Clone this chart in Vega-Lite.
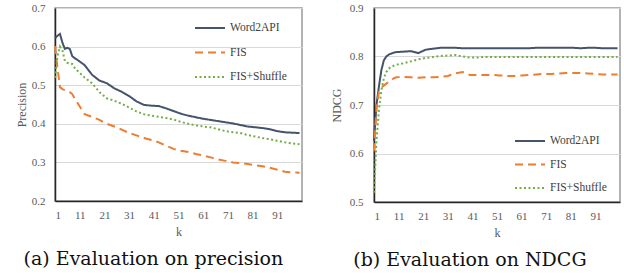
{
  "$schema": "https://vega.github.io/schema/vega-lite/v6.json",
  "background": "white",
  "padding": {"left": 14, "top": 1, "right": 9, "bottom": 0},
  "spacing": 24,
  "resolve": {"scale": {"color": "independent", "strokeDash": "independent"}, "legend": {"color": "independent", "strokeDash": "independent"}},
  "config": {
    "view": {"stroke": "#999999", "strokeWidth": 1.5},
    "axis": {"labelFont": "Liberation Serif", "titleFont": "Liberation Serif", "labelFontSize": 11, "titleFontSize": 12, "labelColor": "#595959", "titleColor": "#595959", "titleFontWeight": "normal", "ticks": false, "domainColor": "#262626", "domainWidth": 1.5, "gridColor": "#d9d9d9", "gridWidth": 1},
    "legend": {"title": null, "orient": "none", "symbolType": "stroke", "symbolSize": 900, "symbolStrokeWidth": 2, "labelFont": "Liberation Serif", "labelFontSize": 11.5, "labelColor": "#404040", "labelOffset": 4, "clipHeight": 16, "padding": 0},
    "title": {"font": "DejaVu Serif", "fontSize": 19, "fontWeight": "normal", "color": "#111111", "orient": "bottom", "anchor": "middle", "frame": "bounds", "offset": 13, "dx": -6}
  },
  "hconcat": [
    {
      "width": 247,
      "height": 193,
      "title": {"text": "(a) Evaluation on precision"},
      "data": {"values": [
        {"k": 1, "Word2API": 0.622, "FIS": 0.601, "FIS+Shuffle": 0.519},
        {"k": 2, "Word2API": 0.628, "FIS": 0.545, "FIS+Shuffle": 0.575},
        {"k": 3, "Word2API": 0.633, "FIS": 0.495, "FIS+Shuffle": 0.600},
        {"k": 4, "Word2API": 0.610, "FIS": 0.490, "FIS+Shuffle": 0.590},
        {"k": 5, "Word2API": 0.594, "FIS": 0.487, "FIS+Shuffle": 0.563},
        {"k": 6, "Word2API": 0.597, "FIS": 0.485, "FIS+Shuffle": 0.558},
        {"k": 7, "Word2API": 0.594, "FIS": 0.482, "FIS+Shuffle": 0.556},
        {"k": 8, "Word2API": 0.575, "FIS": 0.477, "FIS+Shuffle": 0.555},
        {"k": 9, "Word2API": 0.570, "FIS": 0.465, "FIS+Shuffle": 0.545},
        {"k": 10, "Word2API": 0.566, "FIS": 0.455, "FIS+Shuffle": 0.538},
        {"k": 13, "Word2API": 0.552, "FIS": 0.425, "FIS+Shuffle": 0.520},
        {"k": 16, "Word2API": 0.527, "FIS": 0.418, "FIS+Shuffle": 0.505},
        {"k": 19, "Word2API": 0.512, "FIS": 0.410, "FIS+Shuffle": 0.482},
        {"k": 22, "Word2API": 0.505, "FIS": 0.400, "FIS+Shuffle": 0.466},
        {"k": 25, "Word2API": 0.492, "FIS": 0.393, "FIS+Shuffle": 0.460},
        {"k": 28, "Word2API": 0.483, "FIS": 0.385, "FIS+Shuffle": 0.452},
        {"k": 31, "Word2API": 0.472, "FIS": 0.376, "FIS+Shuffle": 0.442},
        {"k": 34, "Word2API": 0.458, "FIS": 0.370, "FIS+Shuffle": 0.432},
        {"k": 37, "Word2API": 0.449, "FIS": 0.363, "FIS+Shuffle": 0.425},
        {"k": 40, "Word2API": 0.447, "FIS": 0.358, "FIS+Shuffle": 0.421},
        {"k": 43, "Word2API": 0.446, "FIS": 0.352, "FIS+Shuffle": 0.418},
        {"k": 46, "Word2API": 0.440, "FIS": 0.343, "FIS+Shuffle": 0.415},
        {"k": 49, "Word2API": 0.433, "FIS": 0.335, "FIS+Shuffle": 0.411},
        {"k": 52, "Word2API": 0.426, "FIS": 0.330, "FIS+Shuffle": 0.405},
        {"k": 55, "Word2API": 0.421, "FIS": 0.327, "FIS+Shuffle": 0.400},
        {"k": 58, "Word2API": 0.417, "FIS": 0.322, "FIS+Shuffle": 0.396},
        {"k": 61, "Word2API": 0.413, "FIS": 0.318, "FIS+Shuffle": 0.393},
        {"k": 64, "Word2API": 0.410, "FIS": 0.313, "FIS+Shuffle": 0.391},
        {"k": 67, "Word2API": 0.407, "FIS": 0.308, "FIS+Shuffle": 0.386},
        {"k": 70, "Word2API": 0.404, "FIS": 0.304, "FIS+Shuffle": 0.381},
        {"k": 73, "Word2API": 0.401, "FIS": 0.300, "FIS+Shuffle": 0.378},
        {"k": 76, "Word2API": 0.397, "FIS": 0.298, "FIS+Shuffle": 0.376},
        {"k": 79, "Word2API": 0.393, "FIS": 0.296, "FIS+Shuffle": 0.371},
        {"k": 82, "Word2API": 0.391, "FIS": 0.293, "FIS+Shuffle": 0.367},
        {"k": 85, "Word2API": 0.389, "FIS": 0.290, "FIS+Shuffle": 0.363},
        {"k": 88, "Word2API": 0.386, "FIS": 0.286, "FIS+Shuffle": 0.360},
        {"k": 91, "Word2API": 0.381, "FIS": 0.281, "FIS+Shuffle": 0.356},
        {"k": 94, "Word2API": 0.378, "FIS": 0.276, "FIS+Shuffle": 0.352},
        {"k": 97, "Word2API": 0.377, "FIS": 0.274, "FIS+Shuffle": 0.349},
        {"k": 100, "Word2API": 0.376, "FIS": 0.273, "FIS+Shuffle": 0.347}
      ]},
      "transform": [{"fold": ["Word2API", "FIS", "FIS+Shuffle"], "as": ["series", "value"]}],
      "mark": {"type": "line", "strokeWidth": 2},
      "encoding": {
        "x": {"field": "k", "type": "quantitative", "scale": {"domain": [1, 101], "nice": false, "zero": false}, "axis": {"values": [1, 11, 21, 31, 41, 51, 61, 71, 81, 91], "title": "k", "grid": false, "labelPadding": 8, "titlePadding": 6}},
        "y": {"field": "value", "type": "quantitative", "scale": {"domain": [0.2, 0.7], "nice": false, "zero": false}, "axis": {"values": [0.2, 0.3, 0.4, 0.5, 0.6, 0.7], "format": ".1f", "title": "Precision", "labelPadding": 10, "titlePadding": 3}},
        "color": {"field": "series", "type": "nominal", "scale": {"domain": ["Word2API", "FIS", "FIS+Shuffle"], "range": ["#44546A", "#ED7D31", "#70AD47"]}, "legend": {"legendX": 139, "legendY": 12, "rowPadding": 8.5}},
        "strokeDash": {"field": "series", "type": "nominal", "scale": {"domain": ["Word2API", "FIS", "FIS+Shuffle"], "range": [[1, 0], [8, 5], [2, 2.5]]}, "legend": {"legendX": 139, "legendY": 12, "rowPadding": 8.5}}
      }
    },
    {
      "width": 246,
      "height": 194,
      "title": {"text": "(b) Evaluation on NDCG"},
      "data": {"values": [
        {"k": 1, "Word2API": 0.626, "FIS": 0.605, "FIS+Shuffle": 0.519},
        {"k": 2, "Word2API": 0.700, "FIS": 0.690, "FIS+Shuffle": 0.625},
        {"k": 3, "Word2API": 0.738, "FIS": 0.728, "FIS+Shuffle": 0.690},
        {"k": 4, "Word2API": 0.772, "FIS": 0.736, "FIS+Shuffle": 0.730},
        {"k": 5, "Word2API": 0.792, "FIS": 0.740, "FIS+Shuffle": 0.755},
        {"k": 6, "Word2API": 0.800, "FIS": 0.744, "FIS+Shuffle": 0.768},
        {"k": 7, "Word2API": 0.804, "FIS": 0.748, "FIS+Shuffle": 0.775},
        {"k": 8, "Word2API": 0.806, "FIS": 0.751, "FIS+Shuffle": 0.779},
        {"k": 9, "Word2API": 0.808, "FIS": 0.755, "FIS+Shuffle": 0.781},
        {"k": 10, "Word2API": 0.809, "FIS": 0.757, "FIS+Shuffle": 0.783},
        {"k": 13, "Word2API": 0.810, "FIS": 0.758, "FIS+Shuffle": 0.786},
        {"k": 16, "Word2API": 0.811, "FIS": 0.757, "FIS+Shuffle": 0.790},
        {"k": 19, "Word2API": 0.807, "FIS": 0.756, "FIS+Shuffle": 0.794},
        {"k": 22, "Word2API": 0.814, "FIS": 0.757, "FIS+Shuffle": 0.797},
        {"k": 25, "Word2API": 0.816, "FIS": 0.757, "FIS+Shuffle": 0.799},
        {"k": 28, "Word2API": 0.818, "FIS": 0.758, "FIS+Shuffle": 0.801},
        {"k": 31, "Word2API": 0.818, "FIS": 0.760, "FIS+Shuffle": 0.802},
        {"k": 34, "Word2API": 0.818, "FIS": 0.765, "FIS+Shuffle": 0.803},
        {"k": 37, "Word2API": 0.817, "FIS": 0.768, "FIS+Shuffle": 0.800},
        {"k": 40, "Word2API": 0.817, "FIS": 0.762, "FIS+Shuffle": 0.798},
        {"k": 43, "Word2API": 0.817, "FIS": 0.762, "FIS+Shuffle": 0.798},
        {"k": 46, "Word2API": 0.817, "FIS": 0.762, "FIS+Shuffle": 0.799},
        {"k": 49, "Word2API": 0.817, "FIS": 0.762, "FIS+Shuffle": 0.799},
        {"k": 52, "Word2API": 0.817, "FIS": 0.761, "FIS+Shuffle": 0.799},
        {"k": 55, "Word2API": 0.817, "FIS": 0.760, "FIS+Shuffle": 0.799},
        {"k": 58, "Word2API": 0.817, "FIS": 0.760, "FIS+Shuffle": 0.799},
        {"k": 61, "Word2API": 0.817, "FIS": 0.761, "FIS+Shuffle": 0.799},
        {"k": 64, "Word2API": 0.817, "FIS": 0.762, "FIS+Shuffle": 0.799},
        {"k": 67, "Word2API": 0.818, "FIS": 0.763, "FIS+Shuffle": 0.799},
        {"k": 70, "Word2API": 0.818, "FIS": 0.764, "FIS+Shuffle": 0.799},
        {"k": 73, "Word2API": 0.818, "FIS": 0.764, "FIS+Shuffle": 0.799},
        {"k": 76, "Word2API": 0.818, "FIS": 0.765, "FIS+Shuffle": 0.799},
        {"k": 79, "Word2API": 0.818, "FIS": 0.766, "FIS+Shuffle": 0.799},
        {"k": 82, "Word2API": 0.818, "FIS": 0.766, "FIS+Shuffle": 0.799},
        {"k": 85, "Word2API": 0.817, "FIS": 0.766, "FIS+Shuffle": 0.799},
        {"k": 88, "Word2API": 0.818, "FIS": 0.765, "FIS+Shuffle": 0.799},
        {"k": 91, "Word2API": 0.818, "FIS": 0.764, "FIS+Shuffle": 0.799},
        {"k": 94, "Word2API": 0.817, "FIS": 0.763, "FIS+Shuffle": 0.799},
        {"k": 97, "Word2API": 0.817, "FIS": 0.763, "FIS+Shuffle": 0.799},
        {"k": 100, "Word2API": 0.817, "FIS": 0.763, "FIS+Shuffle": 0.799}
      ]},
      "transform": [{"fold": ["Word2API", "FIS", "FIS+Shuffle"], "as": ["series", "value"]}],
      "mark": {"type": "line", "strokeWidth": 2},
      "encoding": {
        "x": {"field": "k", "type": "quantitative", "scale": {"domain": [1, 101], "nice": false, "zero": false}, "axis": {"values": [1, 11, 21, 31, 41, 51, 61, 71, 81, 91], "title": "k", "grid": false, "labelPadding": 8, "titlePadding": 6}},
        "y": {"field": "value", "type": "quantitative", "scale": {"domain": [0.5, 0.9], "nice": false, "zero": false}, "axis": {"values": [0.5, 0.6, 0.7, 0.8, 0.9], "format": ".1f", "title": "NDCG", "labelPadding": 11, "titlePadding": 6}},
        "color": {"field": "series", "type": "nominal", "scale": {"domain": ["Word2API", "FIS", "FIS+Shuffle"], "range": ["#44546A", "#ED7D31", "#70AD47"]}, "legend": {"legendX": 140, "legendY": 125, "rowPadding": 7.5}},
        "strokeDash": {"field": "series", "type": "nominal", "scale": {"domain": ["Word2API", "FIS", "FIS+Shuffle"], "range": [[1, 0], [8, 5], [2, 2.5]]}, "legend": {"legendX": 140, "legendY": 125, "rowPadding": 7.5}}
      }
    }
  ]
}
